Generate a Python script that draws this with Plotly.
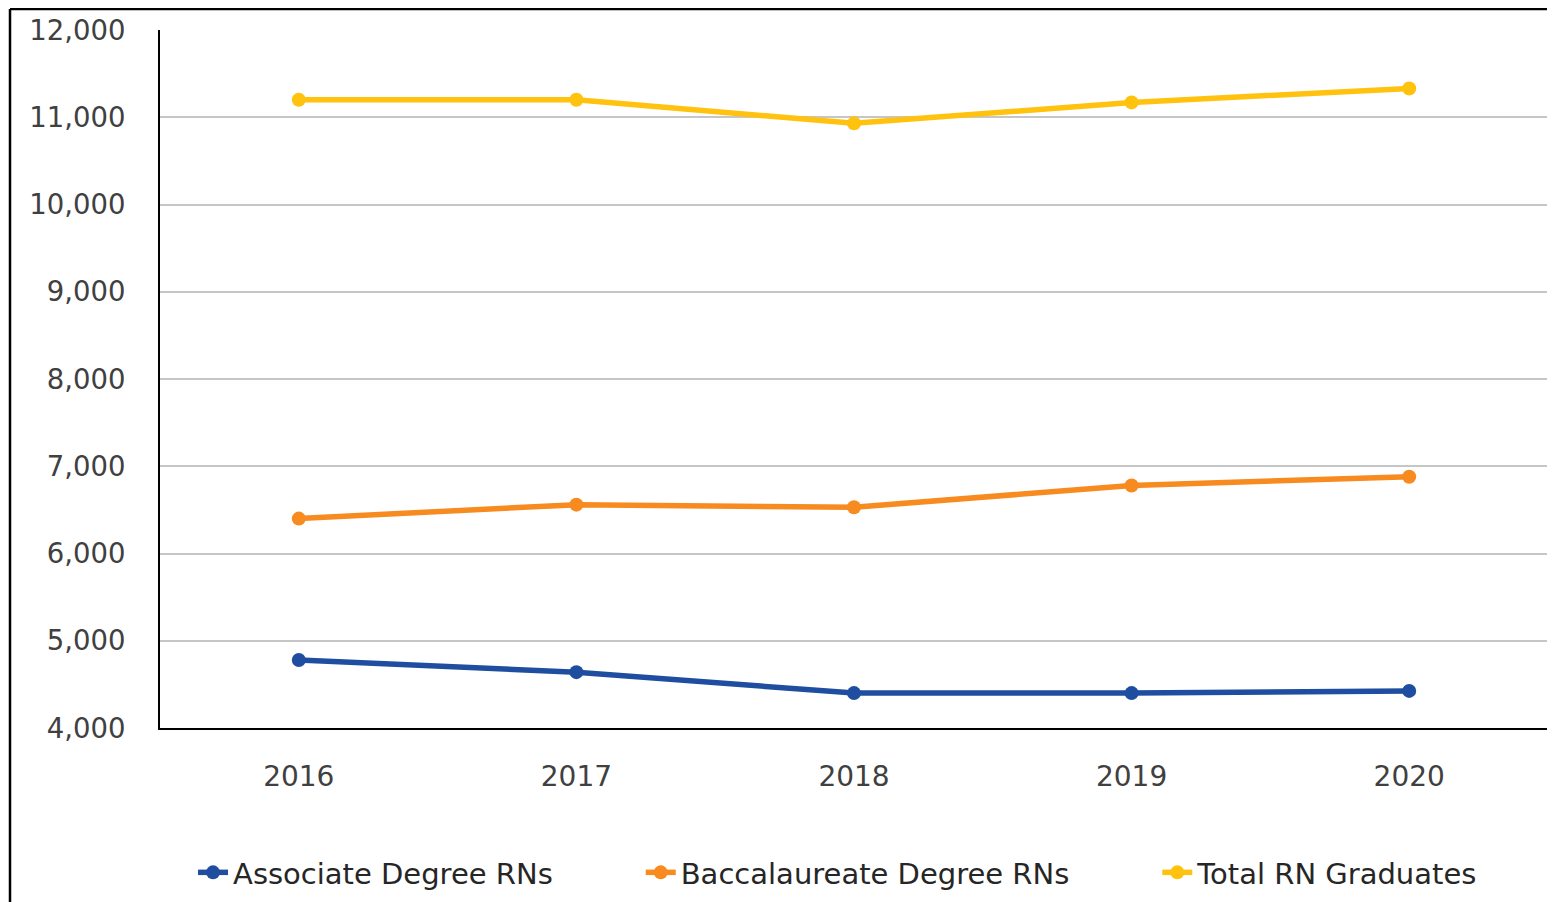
import plotly.graph_objects as go

years = ["2016", "2017", "2018", "2019", "2020"]
associate = [4780, 4640, 4400, 4400, 4425]
baccalaureate = [6400, 6560, 6530, 6780, 6880]
total = [11200, 11200, 10930, 11170, 11330]

series_names = ["Associate Degree RNs", "Baccalaureate Degree RNs", "Total RN Graduates"]
series_values = [associate, baccalaureate, total]
colors = ["#1f4ea0", "#f78b1f", "#ffc20e"]

y_ticks = [4000, 5000, 6000, 7000, 8000, 9000, 10000, 11000, 12000]

# legend spacing padding (non-breaking spaces keep gaps between entries)
pad = "\u00a0" * 9

fig = go.Figure()
for i, (name, vals, c) in enumerate(zip(series_names, series_values, colors)):
    fig.add_trace(go.Scatter(
        x=years, y=vals, name=name + (pad if i < len(series_names) - 1 else ""),
        mode="lines+markers",
        line=dict(color=c, width=5.5),
        marker=dict(color=c, size=14),
    ))

font_family = "DejaVu Sans, Open Sans, sans-serif"
L, R, T, B = 152, 15, 22, 180
W, H = 1555, 902
pw, ph = W - L - R, H - T - B

fig.update_layout(
    width=W, height=H,
    margin=dict(l=L, r=R, t=T, b=B),
    paper_bgcolor="white", plot_bgcolor="white",
    font=dict(family=font_family, size=26, color="#404040"),
    showlegend=True,
    legend=dict(orientation="h", x=0.4885, xanchor="center", y=-0.207, yanchor="middle",
                font=dict(size=29, color="#262626"), itemwidth=30),
    xaxis=dict(type="category", range=[-0.5, 4.5], showgrid=False, automargin=False,
               showline=True, linecolor="#000000", linewidth=2,
               ticks="", tickfont=dict(size=28, color="#404040"), ticklabelstandoff=22),
    yaxis=dict(range=[4000, 12000], tickvals=y_ticks, tickformat=",", automargin=False,
               showgrid=True, gridcolor="#c6c6c6", gridwidth=1.5,
               showline=True, linecolor="#000000", linewidth=2,
               zeroline=False, ticks="", tickfont=dict(size=27.5, color="#404040"),
               ticklabelstandoff=27),
)

# outer frame (top and left edges visible in reference)
to_px = lambda px: (px - L) / pw
to_py = lambda py: (H - B - py) / ph
fig.add_shape(type="line", xref="paper", yref="paper",
              x0=to_px(2), x1=to_px(W + 5), y0=to_py(1), y1=to_py(1),
              line=dict(color="#000000", width=2.5))
fig.add_shape(type="line", xref="paper", yref="paper",
              x0=to_px(2), x1=to_px(2), y0=to_py(1), y1=to_py(H + 5),
              line=dict(color="#000000", width=2.5))

fig.write_html("out.html")
